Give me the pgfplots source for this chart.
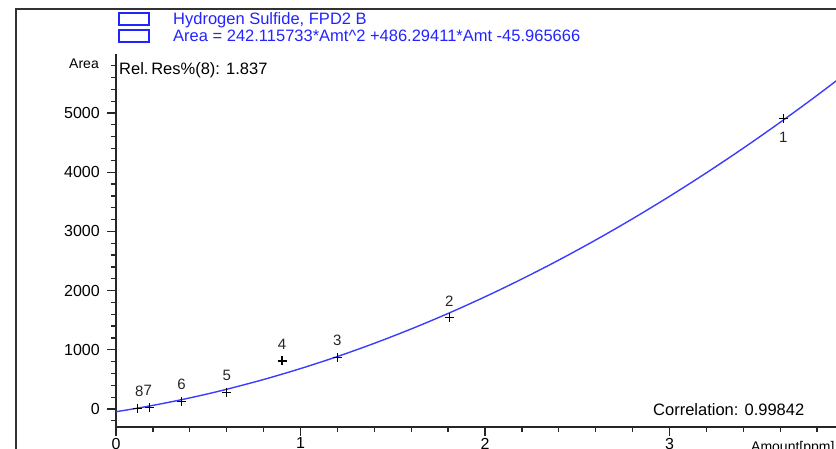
\documentclass[border=0pt]{standalone}
\usepackage{pgfplots}
\pgfplotsset{compat=1.18}
\usepackage{fontspec}
\setmainfont{Liberation Sans}
\definecolor{legblue}{RGB}{35,35,255}
\definecolor{curveblue}{RGB}{60,60,255}
\definecolor{framegray}{RGB}{50,50,50}
\begin{document}
\begin{tikzpicture}
\begin{scope}
\clip (0pt,0pt) rectangle (836pt,449pt);
% outer frame
\draw[line width=2pt, framegray] (16pt,-10pt) -- (16pt,440pt) -- (860pt,440pt);
% legend
\draw[legblue, line width=1.6pt] (119pt,424pt) rectangle (149pt,436pt);
\draw[legblue, line width=1.6pt] (119pt,407pt) rectangle (149pt,419pt);
\node[anchor=base west, inner sep=0pt, text=legblue, font=\fontsize{16.5}{19}\selectfont] at (173pt,424pt) {Hydrogen Sulfide, FPD2 B};
\node[anchor=base west, inner sep=0pt, text=legblue, font=\fontsize{16.5}{19}\selectfont] at (173pt,407.5pt) {Area = 242.115733*Amt\^{}2 +486.29411*Amt -45.965666};
\node[anchor=base west, inner sep=0pt, font=\fontsize{16.5}{19}\selectfont] at (119pt,374pt) {Rel.\,Res\%(8): 1.837};
\node[anchor=base west, inner sep=0pt, font=\fontsize{16.5}{19}\selectfont] at (653pt,33pt) {Correlation: 0.99842};
\node[anchor=base east, inner sep=0pt, font=\fontsize{14}{17}\selectfont] at (99pt,380pt) {Area};
\node[anchor=base west, inner sep=0pt, font=\fontsize{14}{17}\selectfont] at (751pt,-3pt) {Amount[ppm]};
\begin{axis}[
  scale only axis,
  at={(116pt,22.24pt)}, anchor=south west,
  width=738pt, height=372.96pt,
  xmin=0, xmax=4, ymin=-300, ymax=6000,
  axis x line=bottom, axis y line=left,
  axis line style={-, line width=1.7pt, black!85},
  tick align=outside,
  major tick length=9pt, minor tick length=5pt,
  every tick/.style={black!85, line width=1.3pt},
  xtick={0,1,2,3,4}, ytick={0,1000,2000,3000,4000,5000},
  minor xtick={0,0.2,...,4},
  minor ytick={-200,0,...,5800},
  /pgf/number format/assume math mode=true,
  /pgf/number format/1000 sep={},
  scaled ticks=false,
  tick label style={font=\fontsize{16}{19}\selectfont, black},
  xticklabel style={anchor=north, inner sep=0pt, yshift=-2pt},
  yticklabel style={anchor=east, inner sep=0pt, xshift=-7pt},
  clip=false,
]
\addplot[curveblue, line width=1.4pt, smooth] coordinates {
(0,-45.97) (0.1,5.08) (0.2,60.97) (0.3,121.71) (0.4,187.29) (0.5,257.71)
(0.6,332.97) (0.8,498.02) (1.0,682.44) (1.2,886.23) (1.4,1109.39)
(1.6,1351.92) (1.8,1613.82) (2.0,1895.08) (2.2,2195.72) (2.4,2515.73)
(2.6,2855.09) (2.8,3213.84) (3.0,3591.95) (3.2,3989.44) (3.4,4406.29)
(3.6,4842.51) (3.8,5298.10) (4.0,5773.06)
};
\addplot[only marks, mark=+, mark size=4.5pt, black, line width=1.2pt,
  nodes near coords, point meta=explicit symbolic,
  visualization depends on={value \thisrow{dx} \as \dx},
  every node near coord/.append style={anchor=south, inner sep=0pt, yshift=11pt, xshift=\dx pt, font=\fontsize{15}{18}\selectfont, text=black!85}]
  table[meta=lab] {
x y lab dx
1.806 1542 2 0
1.2 867 3 0
0.9 811 4 0
0.6 282 5 0
0.355 125 6 0
0.18 25 7 -1.5
0.118 15 8 1.5
};
\addplot[only marks, mark=+, mark size=4.5pt, black, line width=1.2pt,
  nodes near coords, point meta=explicit symbolic,
  every node near coord/.append style={anchor=north, inner sep=0pt, yshift=-13pt, font=\fontsize{15}{18}\selectfont, text=black!85}]
  table[meta=lab] {
x y lab
3.617 4910 1
};
\end{axis}
\end{scope}
\pgfresetboundingbox
\useasboundingbox (0pt,0pt) rectangle (836pt,449pt);
\end{tikzpicture}
\end{document}
